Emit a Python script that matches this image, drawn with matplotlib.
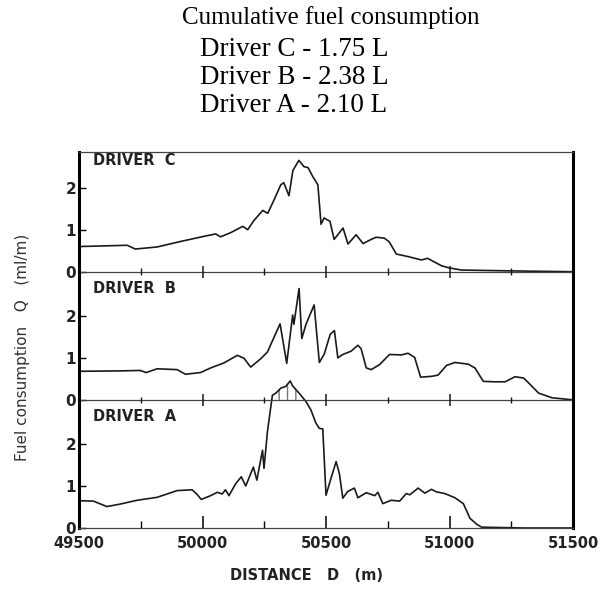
import numpy as np
import matplotlib
matplotlib.use("Agg")
import matplotlib.pyplot as plt

# distance (m) and fuel consumption Q (ml/m)
dist_c = [49504, 49695, 49728, 49817, 49911, 50004, 50053, 50073, 50114, 50163,
          50183, 50207, 50244, 50264, 50285, 50317, 50329, 50350, 50366, 50390,
          50411, 50427, 50447, 50467, 50480, 50492, 50516, 50533, 50569, 50589,
          50622, 50650, 50683, 50703, 50736, 50756, 50785, 50833, 50886, 50911,
          50968, 51000, 51049, 51250, 51500]
q_c = [0.60, 0.63, 0.54, 0.59, 0.72, 0.84, 0.90, 0.83, 0.93, 1.08,
       1.00, 1.21, 1.46, 1.39, 1.65, 2.07, 2.12, 1.81, 2.41, 2.65,
       2.50, 2.48, 2.26, 2.07, 1.13, 1.28, 1.20, 0.77, 1.04, 0.66,
       0.88, 0.67, 0.77, 0.82, 0.80, 0.71, 0.42, 0.36, 0.28, 0.32,
       0.14, 0.09, 0.04, 0.02, 0.0]

dist_b = [49500, 49667, 49748, 49772, 49816, 49897, 49931, 49992, 50033, 50087,
          50141, 50168, 50195, 50236, 50263, 50314, 50341, 50365, 50370, 50391,
          50402, 50419, 50452, 50473, 50493, 50517, 50534, 50548, 50568, 50602,
          50629, 50642, 50663, 50683, 50717, 50757, 50805, 50832, 50859, 50883,
          50927, 50954, 50988, 51022, 51076, 51103, 51137, 51184, 51225, 51265,
          51300, 51326, 51361, 51415, 51482, 51500]
q_b = [0.68, 0.69, 0.70, 0.65, 0.74, 0.72, 0.61, 0.65, 0.76, 0.88,
       1.06, 0.99, 0.78, 0.98, 1.14, 1.81, 0.87, 2.02, 1.80, 2.65,
       1.46, 1.80, 2.26, 0.89, 1.09, 1.56, 1.65, 1.00, 1.08, 1.16,
       1.30, 1.22, 0.76, 0.72, 0.84, 1.08, 1.07, 1.11, 1.01, 0.54,
       0.56, 0.59, 0.82, 0.89, 0.85, 0.76, 0.44, 0.43, 0.43, 0.55,
       0.52, 0.37, 0.16, 0.05, 0.01, 0.0]

dist_a = [49500, 49558, 49613, 49667, 49735, 49816, 49897, 49958, 49978, 49995,
          50033, 50060, 50080, 50093, 50107, 50134, 50157, 50175, 50206, 50220,
          50243, 50249, 50263, 50283, 50297, 50317, 50337, 50355, 50364, 50391,
          50419, 50439, 50459, 50473, 50487, 50500, 50520, 50541, 50554, 50568,
          50588, 50615, 50629, 50663, 50697, 50710, 50730, 50764, 50798, 50825,
          50839, 50873, 50900, 50927, 50947, 50981, 51022, 51056, 51083, 51110,
          51130, 51300, 51500]
q_a = [0.65, 0.64, 0.51, 0.57, 0.66, 0.73, 0.89, 0.91, 0.80, 0.68,
       0.77, 0.85, 0.81, 0.91, 0.77, 1.05, 1.22, 1.00, 1.45, 1.14,
       1.85, 1.42, 2.30, 3.16, 3.21, 3.33, 3.37, 3.50, 3.39, 3.21,
       3.01, 2.81, 2.50, 2.37, 2.36, 0.78, 1.18, 1.58, 1.30, 0.71,
       0.87, 0.95, 0.72, 0.84, 0.77, 0.85, 0.58, 0.66, 0.64, 0.82,
       0.79, 0.95, 0.83, 0.92, 0.86, 0.82, 0.72, 0.58, 0.23, 0.09,
       0.02, 0.0, 0.0]

panels = ["DRIVER  C", "DRIVER  B", "DRIVER  A"]
offsets = [6.1, 3.05, 0.0]
title_lines = ["Cumulative fuel consumption",
               "Driver C - 1.75 L", "Driver B - 2.38 L", "Driver A - 2.10 L"]

fig = plt.figure(figsize=(6.1, 5.92), dpi=100)
ax = fig.add_axes([79 / 610, 1 - 528 / 592, 494 / 610, 376 / 592])

ink = "#1a1a1a"
for d, q, off in zip([dist_c, dist_b, dist_a], [q_c, q_b, q_a], offsets):
    ax.plot(d, np.array(q) + off, color=ink, lw=1.2)

# hatched overlap where driver A's peak rises through driver B's zero line
da = np.array(dist_a)
qa = np.array(q_a)
m = qa > offsets[1]
ax.fill_between(da, offsets[1], qa, where=m, facecolor="none",
                edgecolor="#777777", hatch="||", lw=0, interpolate=True)

# zero lines of upper panels with their distance marks
major_x = [50000, 50500, 51000]
minor_x = [49750, 50250, 50750, 51250]
for off in offsets[:2]:
    ax.axhline(off, color="#444444", lw=0.9)
    ax.vlines(major_x, off - 0.14, off + 0.14, color=ink, lw=1.1)
    ax.vlines(minor_x, off - 0.08, off + 0.08, color=ink, lw=1.0)

for name, off in zip(panels, offsets):
    ax.text(49555, off + 2.65, name, fontsize=10.5, fontweight="bold",
            color="#222222", ha="left", va="center")

ax.set_xlim(49500, 51500)
ax.set_ylim(0, 8.95)
ax.set_xticks([49500, 50000, 50500, 51000, 51500])
ax.set_xticks(minor_x, minor=True)
ax.set_xticklabels(["49500", "50000", "50500", "51000", "51500"],
                   fontsize=10.5, fontweight="bold", color="#222222")
yt = []
for off in offsets[::-1]:
    yt += [off, off + 1, off + 2]
ax.set_yticks(yt)
ax.set_yticklabels(["0", "1", "2"] * 3, fontsize=11, fontweight="bold", color="#222222")
ax.tick_params(axis="x", which="major", direction="in", length=9, width=1.1, pad=6)
ax.tick_params(axis="x", which="minor", direction="in", length=5, width=1.0)
ax.tick_params(axis="y", direction="in", length=5, width=1.0, pad=2)

for s in ["left", "right"]:
    ax.spines[s].set_linewidth(2.2)
    ax.spines[s].set_color("black")
for s in ["top", "bottom"]:
    ax.spines[s].set_linewidth(0.9)
    ax.spines[s].set_color("#444444")

fig.text(23 / 610, 1 - 347 / 592, "Fuel consumption   Q   (ml/m)", rotation=90,
         ha="center", va="center", fontsize=11, color="#333333")
fig.text(307 / 610, 1 - 575 / 592, "DISTANCE   D   (m)", ha="center", va="center",
         fontsize=10.5, fontweight="bold", color="#222222")

fig.text(182 / 610, 1 - 18 / 592, title_lines[0], ha="left", va="center",
         fontsize=18, family="Liberation Serif")
for i, line in enumerate(title_lines[1:]):
    fig.text(200 / 610, 1 - (49 + 28.5 * i) / 592, line, ha="left", va="center",
             fontsize=19.5, family="Liberation Serif")

fig.savefig("out.png", dpi=100)
